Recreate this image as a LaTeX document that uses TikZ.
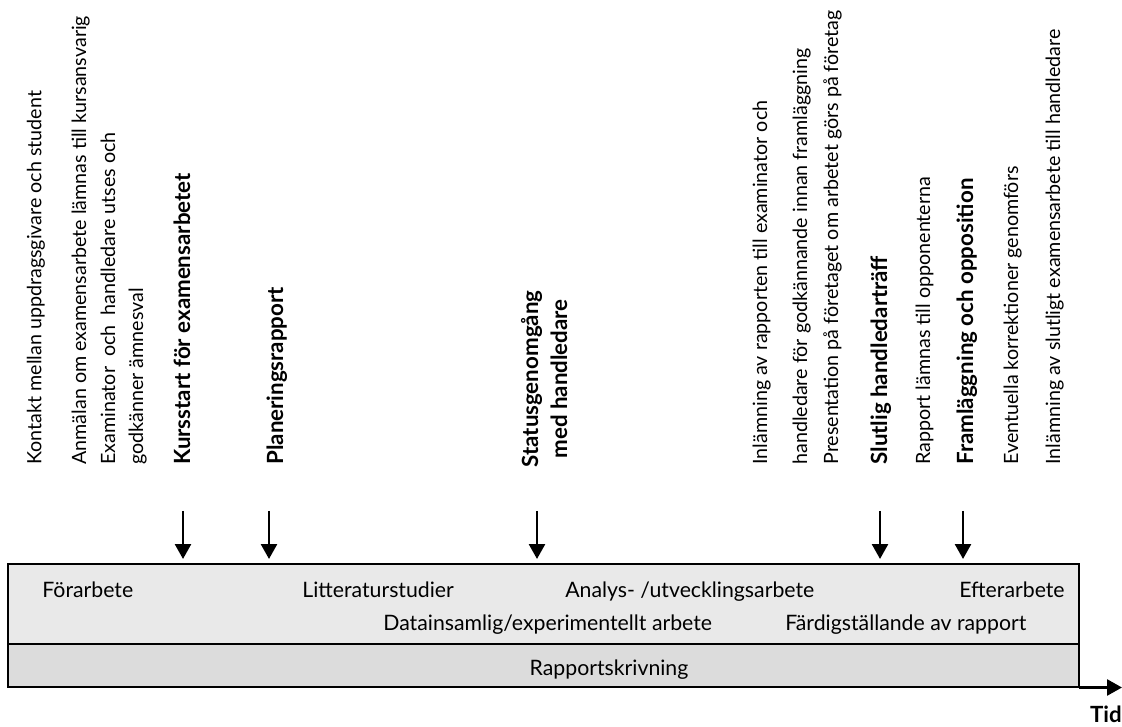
\documentclass[tikz,border=0pt]{standalone}
\usepackage{fontspec}
\setmainfont{Lato}
\usetikzlibrary{arrows.meta}
\definecolor{ljusgra}{HTML}{E9E9E9}
\definecolor{mellangra}{HTML}{DCDCDC}

\begin{document}
\begin{tikzpicture}[> = {Triangle[width=0.32cm, length=0.3cm]},
		every node/.style = {inner sep=0pt, font=\fontsize{11.2}{13}\selectfont},
		txt/.style = {rotate=90, anchor=base west},
		fet/.style = {font=\fontsize{12.7}{15}\selectfont\bfseries},
		fas/.style = {font=\fontsize{12.1}{14}\selectfont},
		pil/.style = {->, line width=1.5pt}]
			\useasboundingbox (0,0) rectangle (22.44,14.52);
			
			% tidslinjen
			\draw [line width=0.8pt, fill=ljusgra] (0.16,1.64) rectangle (21.58,3.24);
			\draw [line width=0.8pt, fill=mellangra] (0.16,0.78) rectangle (21.58,1.64);
			
			\node [fas, anchor=base west] (forarbete) at (0.84,2.58) {Förarbete};
			\node [fas, anchor=base west] (litteratur) at (6.04,2.58) {Litteraturstudier};
			\node [fas, anchor=base west] (analys) at (11.30,2.58) {Analys- /utvecklingsarbete};
			\node [fas, anchor=base east] (efterarbete) at (21.30,2.58) {Efterarbete};
			\node [fas, anchor=base west] (datainsamling) at (7.66,1.92) {Datainsamlig/experimentellt arbete};
			\node [fas, anchor=base west] (fardig) at (15.70,1.92) {Färdigställande av rapport};
			\node [fas, anchor=base] (skrivning) at (12.18,1.02) {Rapportskrivning};
			
			\draw [pil] (21.58,0.77) -- (22.44,0.77);
			\node [fet, anchor=base east] (tid) at (22.44,0.07) {Tid};
			
			% aktiviteter
			\node [txt] (kontakt) at (0.83,5.22) {Kontakt mellan uppdragsgivare och student};
			\node [txt] (anmalan) at (1.72,5.22) {Anmälan om examensarbete lämnas till kursansvarig};
			\node [txt] (examinator) at (2.30,5.22) {Examinator\ \ och\ \ handledare utses och};
			\node [txt] (godkanner) at (2.86,5.22) {godkänner ämnesval};
			\node [txt, fet] (kursstart) at (3.80,5.22) {Kursstart för examensarbetet};
			\node [txt, fet] (planering) at (5.66,5.22) {Planeringsrapport};
			\node [fet, rotate=90, anchor=base] (status) at (10.76,6.94) {Statusgenomgång};
			\node [fet, rotate=90, anchor=base] (medhandl) at (11.34,6.94) {med handledare};
			\node [txt] (inlamning) at (15.34,5.22) {Inlämning av rapporten till examinator och};
			\node [txt] (godkannande) at (16.14,5.22) {handledare för godkännande innan framläggning};
			\node [txt] (presentation) at (16.76,5.22) {Presentation på företaget om arbetet görs på företag};
			\node [txt, fet] (slutlig) at (17.74,5.22) {Slutlig handledarträff};
			\node [txt] (opponenter) at (18.60,5.22) {Rapport lämnas till opponenterna};
			\node [txt, fet] (framlaggning) at (19.46,5.22) {Framläggning och opposition};
			\node [txt] (korrektioner) at (20.36,5.22) {Eventuella korrektioner genomförs};
			\node [txt] (slutversion) at (21.20,5.22) {Inlämning av slutligt examensarbete till handledare};
			
			% milstolpar
			\draw [pil] (3.66,4.30) -- (3.66,3.34);
			\draw [pil] (5.38,4.30) -- (5.38,3.34);
			\draw [pil] (10.74,4.30) -- (10.74,3.34);
			\draw [pil] (17.60,4.30) -- (17.60,3.34);
			\draw [pil] (19.26,4.30) -- (19.26,3.34);
		\end{tikzpicture}
\end{document}
